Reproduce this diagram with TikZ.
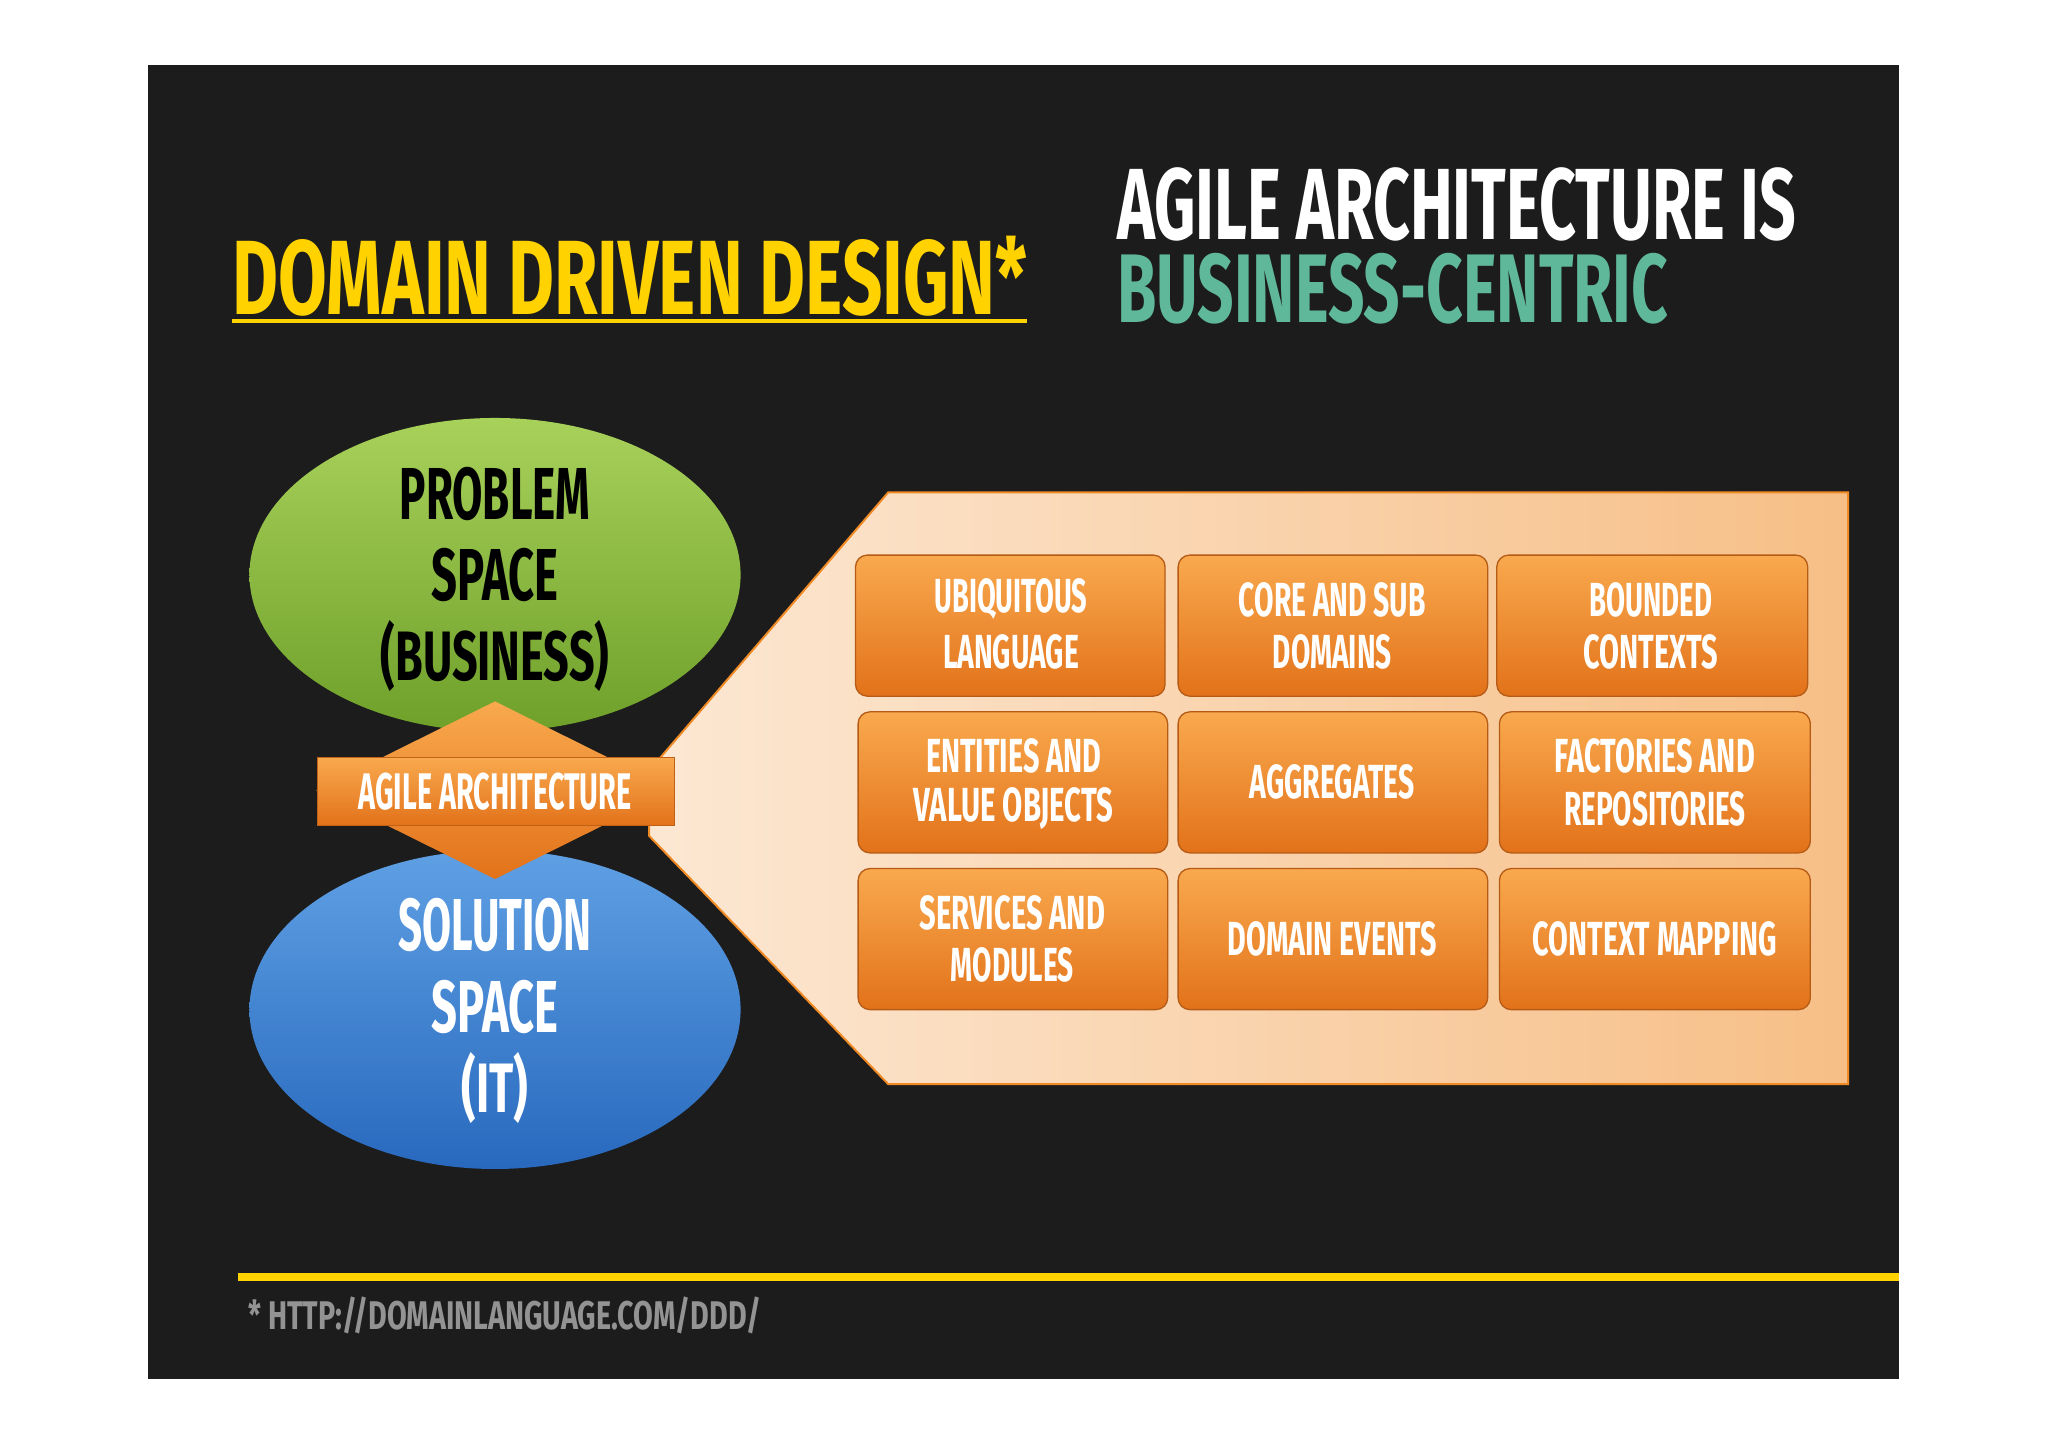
\documentclass[tikz,border=0pt]{standalone}
\usepackage{fontspec}
\setmainfont{Fira Sans}
\usepackage{graphicx}
\newcommand{\fb}[3]{\resizebox{#1pt}{#2pt}{\bfseries #3}}
\definecolor{bg}{HTML}{1C1C1C}
\definecolor{ddyel}{HTML}{FFD200}
\definecolor{teal}{HTML}{5FB89A}
\definecolor{ora}{HTML}{F08A24}
\definecolor{oratop}{HTML}{F9A94E}
\definecolor{orabot}{HTML}{E2721A}
\tikzset{
 txt/.style={inner sep=0pt,anchor=center},
 tbox/.style={rounded corners=9pt,draw=orabot!80!black,line width=1pt,top color=oratop,bottom color=orabot},
}
\begin{document}
\begin{tikzpicture}[x=1pt,y=-1pt]
\useasboundingbox (0,0) rectangle (1568,1108);
\fill[white] (0,0) rectangle (1568,1108);
\fill[bg] (113,50) rectangle (1454,1056);
% titles
\node[txt,anchor=south west,text=ddyel] (t1) at (178,242) {\fb{608}{60}{DOMAIN DRIVEN DESIGN*}};
\draw[ddyel,line width=3pt] (178,246) -- (786,246);
\node[txt,anchor=south west,text=white] (t2) at (855,185) {\fb{520}{55}{AGILE ARCHITECTURE IS}};
\node[txt,anchor=south west,text=teal] (t3) at (855,248) {\fb{422}{53}{BUSINESS-CENTRIC}};
% panel
\shade[left color=white!80!ora, right color=ora!55!white, draw=ora, line width=1.5pt]
 (680,377) -- (1415,377) -- (1415,830) -- (680,830) -- (497,640) -- (497,590) -- cycle;
% ellipses
\shade[top color={rgb,255:red,168;green,209;blue,90},bottom color={rgb,255:red,110;green,160;blue,42}] (379,440) ellipse [x radius=188, y radius=120];
\shade[top color={rgb,255:red,95;green,160;blue,228},bottom color={rgb,255:red,40;green,105;blue,190}] (379,773) ellipse [x radius=188, y radius=122];
\node[txt] (p1) at (379,378) {\fb{146}{40}{PROBLEM}};
\node[txt] (p2) at (379,440) {\fb{97}{40}{SPACE}};
\node[txt] (p3) at (379,502) {\fb{175}{46}{(BUSINESS)}};
\node[txt,text=white] (s1) at (379,708) {\fb{148}{40}{SOLUTION}};
\node[txt,text=white] (s2) at (379,771) {\fb{97}{40}{SPACE}};
\node[txt,text=white] (s3) at (379,833) {\fb{51}{46}{(IT)}};
% diamond + rect
\shade[top color=oratop,bottom color=orabot] (379,537) -- (516,605) -- (379,673) -- (242,605) -- cycle;
\shade[top color=oratop,bottom color=orabot,draw=orabot!85!black] (243,580) rectangle (516,632);
\node[txt,text=white] (aa) at (379,606) {\fb{209}{28}{AGILE ARCHITECTURE}};
% boxes
\foreach \xa/\xb/\ya/\yb in {655/892/425/533,902/1139/425/533,1146/1384/425/533,
 657/894/545/653,902/1139/545/653,1148/1386/545/653,
 657/894/665/773,902/1139/665/773,1148/1386/665/773}
 \draw[tbox] (\xa,\ya) rectangle (\xb,\yb);
\tikzset{bt/.style={txt,text=white}}
\node[bt] at (774,459) {\fb{117}{26}{UBIQUITOUS}};
\node[bt] at (774,499) {\fb{104}{26}{LANGUAGE}};
\node[bt] at (1020,459) {\fb{143}{26}{CORE AND SUB}};
\node[bt] at (1020,499) {\fb{91}{26}{DOMAINS}};
\node[bt] at (1264,459) {\fb{94}{26}{BOUNDED}};
\node[bt] at (1264,499) {\fb{103}{26}{CONTEXTS}};
\node[bt] at (776,579) {\fb{134}{26}{ENTITIES AND}};
\node[bt] at (776,619) {\fb{153}{26}{VALUE OBJECTS}};
\node[bt] at (1020,599) {\fb{126}{26}{AGGREGATES}};
\node[bt] at (1267,579) {\fb{153}{26}{FACTORIES AND}};
\node[bt] at (1267,619) {\fb{139}{26}{REPOSITORIES}};
\node[bt] at (775,699) {\fb{142}{26}{SERVICES AND}};
\node[bt] at (775,739) {\fb{94}{26}{MODULES}};
\node[bt] at (1020,719) {\fb{160}{26}{DOMAIN EVENTS}};
\node[bt] at (1267,719) {\fb{187}{26}{CONTEXT MAPPING}};
% footer
\draw[ddyel,line width=6pt] (182,978) -- (1454,978);
\node[txt,anchor=west,text=gray!85] (ft) at (190,1007) {\fb{393}{25}{* HTTP://DOMAINLANGUAGE.COM/DDD/}};
\end{tikzpicture}
\end{document}
